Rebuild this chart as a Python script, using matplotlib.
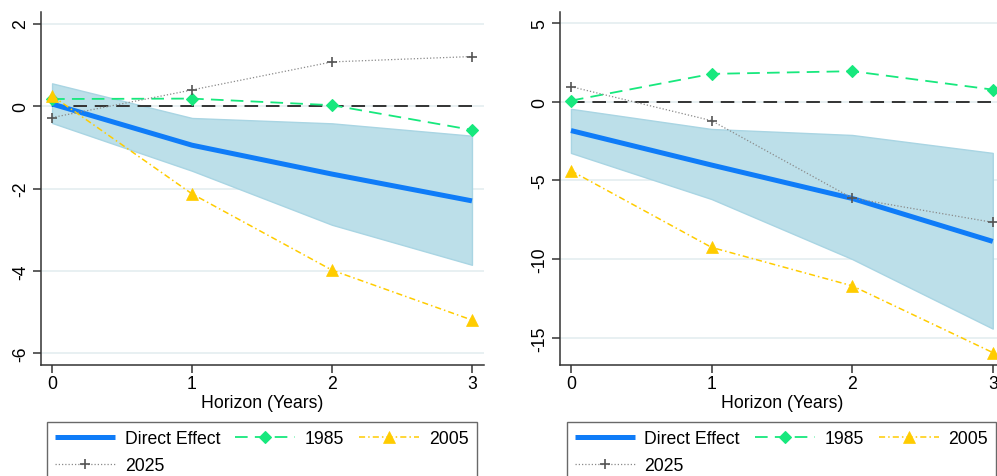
import matplotlib
matplotlib.use("Agg")
import matplotlib.pyplot as plt
import numpy as np

plt.rcParams['font.family'] = ['Liberation Sans', 'DejaVu Sans']

horizon = [0, 1, 2, 3]

# Left panel
left_direct = [0.05, -0.95, -1.65, -2.30]
left_ci_upper = [0.55, -0.29, -0.42, -0.72]
left_ci_lower = [-0.41, -1.57, -2.88, -3.85]
left_1985 = [0.17, 0.18, 0.02, -0.58]
left_2005 = [0.25, -2.13, -3.98, -5.19]
left_2025 = [-0.28, 0.39, 1.07, 1.20]
left_yticks = [-6, -4, -2, 0, 2]

# Right panel
right_direct = [-1.84, -4.03, -6.15, -8.88]
right_ci_upper = [-0.46, -1.74, -2.12, -3.26]
right_ci_lower = [-3.26, -6.19, -10.00, -14.42]
right_1985 = [0.06, 1.76, 1.93, 0.76]
right_2005 = [-4.39, -9.26, -11.70, -15.94]
right_2025 = [0.95, -1.21, -6.13, -7.67]
right_yticks = [-15, -10, -5, 0, 5]

xticks = [0, 1, 2, 3]
xlabel = "Horizon (Years)"
legend_labels = ["Direct Effect", "1985", "2005", "2025"]

W, H = 997, 477
fig = plt.figure(figsize=(W / 100, H / 100), dpi=100)

FS = 12.7
C_BLUE = '#0f7cf8'
C_CI = '#bcdfe9'
C_CI_EDGE = '#a9d5e3'
C_GREEN = '#17e87d'
C_GOLD = '#ffcc00'
C_GREY = '#555555'
C_GRID = '#e8f0f2'


def make_panel(rect, xlim, ylim, yticks, direct, up, lo, s85, s05, s25, leg_xy):
    ax = fig.add_axes(rect)
    ax.set_xlim(*xlim)
    ax.set_ylim(*ylim)
    for yt in yticks:
        ax.axhline(yt, color=C_GRID, lw=1.4, zorder=0)
    ax.fill_between(horizon, lo, up, facecolor=C_CI, edgecolor=C_CI_EDGE,
                    lw=1.0, zorder=1)
    ax.plot([horizon[0], horizon[-1]], [0, 0], color='#333333', lw=1.4,
            dashes=(7, 4), zorder=2)
    h_direct, = ax.plot(horizon, direct, color=C_BLUE, lw=3.6, zorder=3,
                        solid_capstyle='butt')
    h85, = ax.plot(horizon, s85, color=C_GREEN, lw=1.3, dashes=(7, 4),
                   marker='D', ms=6, mew=0.8, mfc=C_GREEN, mec=C_GREEN, zorder=4)
    h05, = ax.plot(horizon, s05, color=C_GOLD, lw=1.1, dashes=(4, 2, 1, 2),
                   marker='^', ms=9, mew=0.5, mfc=C_GOLD, mec=C_GOLD, zorder=5)
    h25, = ax.plot(horizon, s25, color='#8a8a8a', lw=0.9, dashes=(1, 1.6),
                   marker='+', ms=7, mew=1.2, mfc=C_GREY, mec=C_GREY, zorder=6)
    for s in ['top', 'right']:
        ax.spines[s].set_visible(False)
    for s in ['left', 'bottom']:
        ax.spines[s].set_color('#333333')
        ax.spines[s].set_linewidth(1.1)
    ax.set_xticks(xticks)
    ax.set_yticks(yticks)
    ax.set_yticklabels([str(v) for v in yticks], rotation=90, va='center')
    ax.tick_params(axis='both', labelsize=FS, color='#333333', width=1.1,
                   length=5.5, direction='out')
    ax.tick_params(axis='x', pad=2)
    ax.tick_params(axis='y', pad=3)
    ax.set_xlabel(xlabel, fontsize=FS, labelpad=1)
    handles = [h_direct, h25, h85, h05]
    labels = [legend_labels[0], legend_labels[3], legend_labels[1], legend_labels[2]]
    leg = fig.legend(handles, labels, loc='upper left',
                     bbox_to_anchor=(leg_xy[0] / W, 1 - leg_xy[1] / H),
                     bbox_transform=fig.transFigure, ncol=3, fontsize=FS,
                     frameon=True, fancybox=False, edgecolor='#444444',
                     borderaxespad=0, borderpad=0.45, handlelength=3.4,
                     handletextpad=0.55, columnspacing=0.85, labelspacing=0.55,
                     numpoints=1)
    leg.get_frame().set_linewidth(1.0)
    return ax


make_panel([41 / W, 1 - 366 / H, (484 - 41) / W, (366 - 13) / H],
           (-0.079, 3.086), (-6.28, 2.28), left_yticks,
           left_direct, left_ci_upper, left_ci_lower,
           left_1985, left_2005, left_2025, (47.3, 423.3))

make_panel([559.7 / W, 1 - 366 / H, (1004 - 559.7) / W, (366 - 13) / H],
           (-0.08, 3.08), (-16.73, 5.69), right_yticks,
           right_direct, right_ci_upper, right_ci_lower,
           right_1985, right_2005, right_2025, (566.7, 423.3))

fig.savefig("out.png", dpi=100)
